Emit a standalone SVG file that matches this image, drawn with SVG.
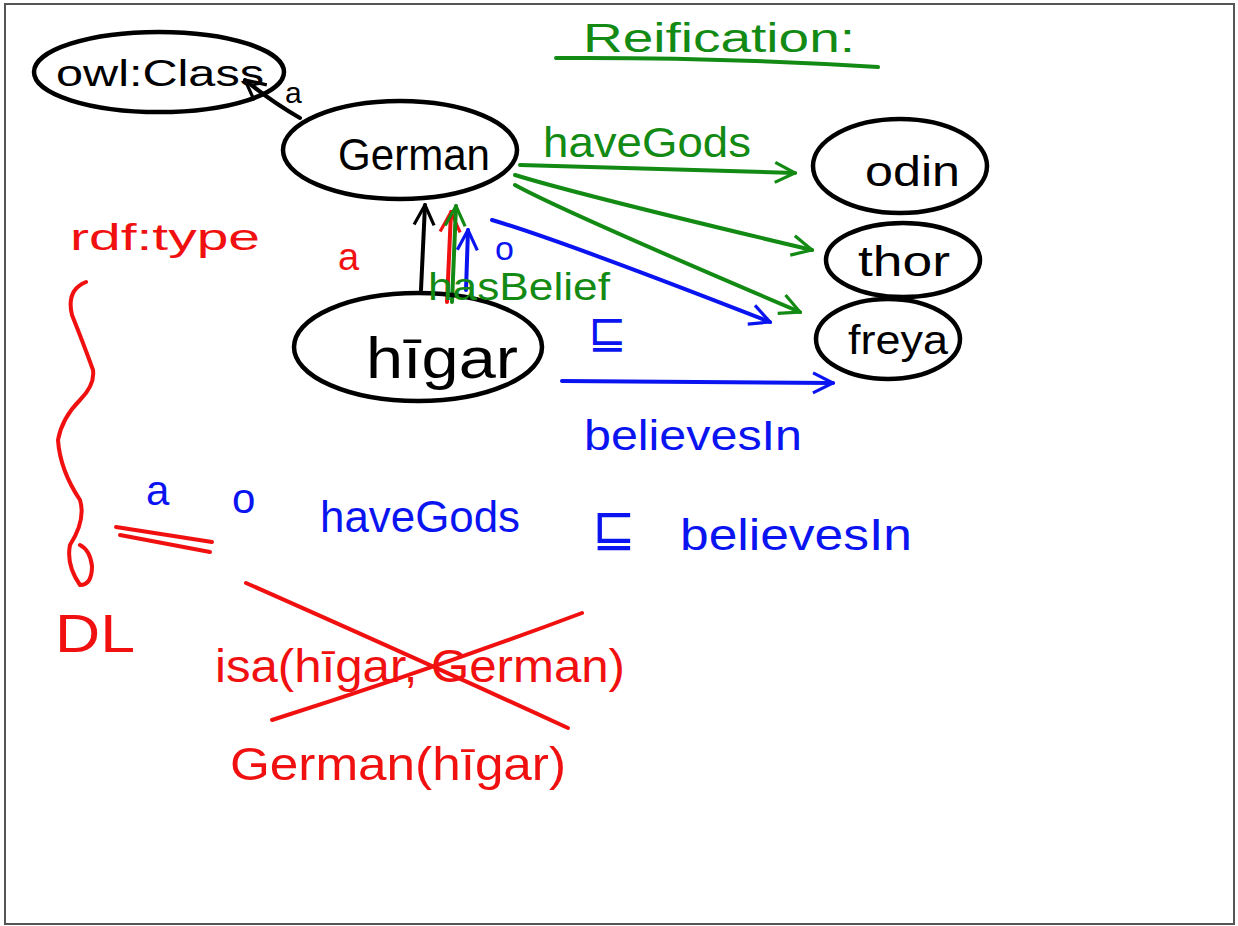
<svg xmlns="http://www.w3.org/2000/svg" width="1238" height="926" viewBox="0 0 1238 926">
<style>
.t{font-family:"Liberation Sans","DejaVu Sans",sans-serif;}
.k{fill:#000}.g{fill:#138a13}.b{fill:#0a14f0}.r{fill:#f01010}
.node{fill:none;stroke:#000;stroke-width:4.5}
.ln{fill:none;stroke-width:4;stroke-linecap:round;stroke-linejoin:round}
.lk{stroke:#000}.lg{stroke:#138a13}.lb{stroke:#0a14f0}.lr{stroke:#f01010}
</style>
<defs>
<marker id="ak" viewBox="0 0 12 12" refX="11" refY="6" markerWidth="6" markerHeight="6" orient="auto" markerUnits="strokeWidth"><path d="M1,1 L11,6 L1,11" fill="none" stroke="#000" stroke-width="1.6"/></marker>
<marker id="ag" viewBox="0 0 12 12" refX="11" refY="6" markerWidth="6" markerHeight="6" orient="auto" markerUnits="strokeWidth"><path d="M1,1 L11,6 L1,11" fill="none" stroke="#138a13" stroke-width="1.6"/></marker>
<marker id="ab" viewBox="0 0 12 12" refX="11" refY="6" markerWidth="6" markerHeight="6" orient="auto" markerUnits="strokeWidth"><path d="M1,1 L11,6 L1,11" fill="none" stroke="#0a14f0" stroke-width="1.6"/></marker>
<marker id="ar" viewBox="0 0 12 12" refX="11" refY="6" markerWidth="6" markerHeight="6" orient="auto" markerUnits="strokeWidth"><path d="M1,1 L11,6 L1,11" fill="none" stroke="#f01010" stroke-width="1.6"/></marker>
</defs>
<rect x="0" y="0" width="1238" height="926" fill="#fff"/>
<rect x="5" y="4" width="1229" height="920" fill="none" stroke="#555" stroke-width="2"/>

<g id="title">
<text class="t g" x="583" y="52" font-size="40" textLength="272" lengthAdjust="spacingAndGlyphs">Reification:</text>
<path class="ln lg" d="M556,58 Q720,57 878,67"/>
</g>

<g id="connectors">
<path class="ln lk" d="M300,118 Q272,102 245,80" marker-end="url(#ak)"/>
<path class="ln lg" d="M520,165 L795,173" marker-end="url(#ag)"/>
<path class="ln lg" d="M515,175 Q580,195 812,250" marker-end="url(#ag)"/>
<path class="ln lg" d="M515,185 Q560,210 800,312" marker-end="url(#ag)"/>
<path class="ln lb" d="M492,220 Q560,240 770,322" marker-end="url(#ab)"/>
<path class="ln lb" d="M562,381 L833,383" marker-end="url(#ab)"/>
<path class="ln lk" d="M421,290 L425,205" marker-end="url(#ak)"/>
<path class="ln lr" d="M447,302 L451,212" marker-end="url(#ar)"/>
<path class="ln lg" d="M452,302 L456,206" marker-end="url(#ag)"/>
<path class="ln lb" d="M466,290 L468,230" marker-end="url(#ab)"/>
</g>

<g id="owlClass">
<ellipse class="node" cx="159" cy="72" rx="125" ry="40"/>
<text class="t k" x="56" y="86" font-size="36" textLength="208" lengthAdjust="spacingAndGlyphs">owl:Class</text>
</g>
<g id="German">
<ellipse class="node" cx="400" cy="150" rx="117" ry="49"/>
<text class="t k" x="338" y="170" font-size="44" textLength="152" lengthAdjust="spacingAndGlyphs">German</text>
</g>
<g id="higar">
<ellipse class="node" cx="418" cy="347" rx="124" ry="54"/>
<text class="t k" x="366" y="378" font-size="58" textLength="152" lengthAdjust="spacingAndGlyphs">hīgar</text>
</g>
<g id="odin">
<ellipse class="node" cx="900" cy="166" rx="87" ry="47"/>
<text class="t k" x="865" y="186" font-size="42" textLength="95" lengthAdjust="spacingAndGlyphs">odin</text>
</g>
<g id="thor">
<ellipse class="node" cx="903" cy="260" rx="77" ry="37"/>
<text class="t k" x="858" y="276" font-size="42" textLength="92" lengthAdjust="spacingAndGlyphs">thor</text>
</g>
<g id="freya">
<ellipse class="node" cx="888" cy="339" rx="72" ry="40"/>
<text class="t k" x="848" y="354" font-size="40" textLength="100" lengthAdjust="spacingAndGlyphs">freya</text>
</g>

<g id="labels">
<text class="t k" x="285" y="103" font-size="30">a</text>
<text class="t g" x="543" y="157" font-size="42" textLength="208" lengthAdjust="spacingAndGlyphs">haveGods</text>
<text class="t r" x="338" y="270" font-size="38">a</text>
<text class="t b" x="495" y="260" font-size="34">o</text>
<text class="t g" x="428" y="300" font-size="38" textLength="182" lengthAdjust="spacingAndGlyphs">hasBelief</text>
<text class="t b" x="588" y="348" font-size="46">⊑</text>
<text class="t b" x="584" y="450" font-size="42" textLength="218" lengthAdjust="spacingAndGlyphs">believesIn</text>
<text class="t r" x="70" y="250" font-size="36" textLength="190" lengthAdjust="spacingAndGlyphs">rdf:type</text>
</g>

<g id="brace">
<path class="ln lr" d="M86,282 Q66,290 72,315 Q84,345 93,370 Q95,385 80,400 Q62,418 58,440 Q60,470 80,500 Q86,520 70,545 Q66,565 80,585 Q92,585 92,566 Q90,550 80,545"/>
</g>

<g id="formulas">
<text class="t b" x="146" y="505" font-size="42">a</text>
<text class="t b" x="232" y="513" font-size="42">o</text>
<text class="t b" x="320" y="532" font-size="44" textLength="200" lengthAdjust="spacingAndGlyphs">haveGods</text>
<text class="t b" x="592" y="546" font-size="52">⊑</text>
<text class="t b" x="680" y="550" font-size="44" textLength="232" lengthAdjust="spacingAndGlyphs">believesIn</text>
<path class="ln lr" d="M116,527 L212,542 M120,535 L210,552"/>
<text class="t r" x="55" y="652" font-size="54" textLength="80" lengthAdjust="spacingAndGlyphs">DL</text>
<text class="t r" x="215" y="682" font-size="46" textLength="410" lengthAdjust="spacingAndGlyphs">isa(hīgar, German)</text>
<path class="ln lr" d="M246,583 Q420,660 568,728 M272,720 Q430,670 582,613"/>
<text class="t r" x="230" y="780" font-size="46" textLength="336" lengthAdjust="spacingAndGlyphs">German(hīgar)</text>
</g>
</svg>
